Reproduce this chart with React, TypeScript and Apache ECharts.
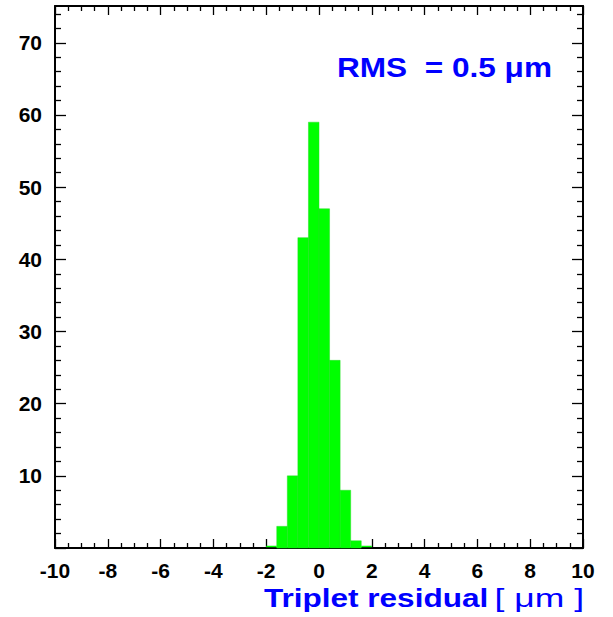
import React, { useEffect, useRef } from "react";
import * as echarts from "echarts";

const binLow = [-2, -1.6, -1.2, -0.8, -0.4, 0, 0.4, 0.8, 1.2, 1.6];
const binHigh = [-1.6, -1.2, -0.8, -0.4, 0, 0.4, 0.8, 1.2, 1.6, 2];
const counts = [0, 3, 10, 43, 59, 47, 26, 8, 1, 0];

const yMajorTicks = [0, 10, 20, 30, 40, 50, 60, 70];
const yLabelValues = [10, 20, 30, 40, 50, 60, 70];
const yMinorTicks = [2, 4, 6, 8, 12, 14, 16, 18, 22, 24, 26, 28, 32, 34, 36, 38, 42, 44, 46, 48, 52, 54, 56, 58, 62, 64, 66, 68, 72, 74];

const xTitle = "Triplet residual";
const xUnit = "[ μm ]";
const rmsText = "RMS  = 0.5 μm";

const FONT = "'Liberation Sans', Arial, Helvetica, sans-serif";

export default function App() {
  const ref = useRef<HTMLDivElement>(null);
  useEffect(() => {
    if (!ref.current) return;
    const chart = echarts.init(ref.current, null, { renderer: "svg" });
    const data = binLow.map((lo, i) => [lo, binHigh[i], counts[i]]);
    const yBase = {
      type: "value",
      min: 0,
      max: 75.1,
      splitLine: { show: false },
    };
    const xBase = {
      type: "value",
      min: -10,
      max: 10,
      interval: 2,
      splitLine: { show: false },
      axisLine: { show: true, onZero: false, lineStyle: { color: "#000", width: 2 } },
      axisTick: { show: true, inside: true, length: 9, lineStyle: { color: "#000", width: 1.3 } },
      minorTick: { show: true, splitNumber: 4, length: 5, lineStyle: { color: "#000", width: 1.3 } },
    };
    chart.setOption({
      animation: false,
      backgroundColor: "#fff",
      grid: {
        left: 55,
        right: 30,
        top: 6,
        bottom: 69,
        containLabel: false,
        outerBoundsMode: "none",
        show: false,
      },
      xAxis: [
        {
          ...xBase,
          position: "bottom",
          axisLabel: {
            show: true,
            color: "#000",
            fontWeight: "bold",
            fontSize: 21,
            fontFamily: FONT,
            margin: 12,
          },
        },
        {
          ...xBase,
          position: "top",
          axisLabel: { show: false },
        },
      ],
      yAxis: [
        {
          ...yBase,
          position: "left",
          axisLine: { show: true, onZero: false, lineStyle: { color: "#000", width: 2 } },
          axisTick: {
            show: true,
            inside: true,
            length: 11,
            customValues: yMajorTicks,
            lineStyle: { color: "#000", width: 1.3 },
          },
          axisLabel: {
            show: true,
            customValues: yLabelValues,
            color: "#000",
            fontWeight: "bold",
            fontSize: 21,
            fontFamily: FONT,
            margin: 13,
          },
        },
        {
          ...yBase,
          position: "left",
          axisLine: { show: false, onZero: false },
          axisTick: {
            show: true,
            inside: true,
            length: 6,
            customValues: yMinorTicks,
            lineStyle: { color: "#000", width: 1.3 },
          },
          axisLabel: { show: false },
        },
        {
          ...yBase,
          position: "right",
          axisLine: { show: true, onZero: false, lineStyle: { color: "#000", width: 2 } },
          axisTick: {
            show: true,
            inside: true,
            length: 11,
            customValues: yMajorTicks,
            lineStyle: { color: "#000", width: 1.3 },
          },
          axisLabel: { show: false },
        },
        {
          ...yBase,
          position: "right",
          axisLine: { show: false, onZero: false },
          axisTick: {
            show: true,
            inside: true,
            length: 6,
            customValues: yMinorTicks,
            lineStyle: { color: "#000", width: 1.3 },
          },
          axisLabel: { show: false },
        },
      ],
      series: [
        {
          type: "custom",
          xAxisIndex: 0,
          yAxisIndex: 0,
          encode: { x: [0, 1], y: 2 },
          data,
          z: 1,
          renderItem: (params: any, api: any) => {
            const lo = api.value(0);
            const hi = api.value(1);
            const c = api.value(2);
            const p0 = api.coord([lo, 0]);
            const p1 = api.coord([hi, c]);
            if (c === 0) {
              return {
                type: "line",
                shape: { x1: p0[0], y1: p0[1] - 1.5, x2: p1[0], y2: p0[1] - 1.5 },
                style: { stroke: "#00ff00", lineWidth: 1.5 },
              };
            }
            return {
              type: "rect",
              shape: { x: p0[0], y: p1[1], width: p1[0] - p0[0], height: p0[1] - p1[1] },
              style: { fill: "#00ff00", stroke: "#22dd22", lineWidth: 0.5 },
            };
          },
        },
      ],
      graphic: [
        {
          type: "text",
          x: 264,
          y: 598,
          scaleX: 1.19,
          style: {
            text: xTitle,
            fontFamily: FONT,
            fontWeight: "bold",
            fontSize: 26.5,
            fill: "#0000ff",
            textAlign: "left",
            textVerticalAlign: "middle",
          },
        },
        {
          type: "text",
          x: 584,
          y: 598,
          scaleX: 1.34,
          style: {
            text: xUnit,
            fontFamily: FONT,
            fontWeight: "normal",
            fontSize: 26.5,
            fill: "#0000ff",
            textAlign: "right",
            textVerticalAlign: "middle",
          },
        },
        {
          type: "text",
          x: 337,
          y: 67,
          scaleX: 1.17,
          style: {
            text: rmsText,
            fontFamily: FONT,
            fontWeight: "bold",
            fontSize: 27,
            fill: "#0000ff",
            textAlign: "left",
            textVerticalAlign: "middle",
          },
        },
      ],
    });
    return () => chart.dispose();
  }, []);
  return (
    <div
      ref={ref}
      style={{ position: "absolute", left: 0, top: 0, width: 613, height: 617 }}
    />
  );
}
